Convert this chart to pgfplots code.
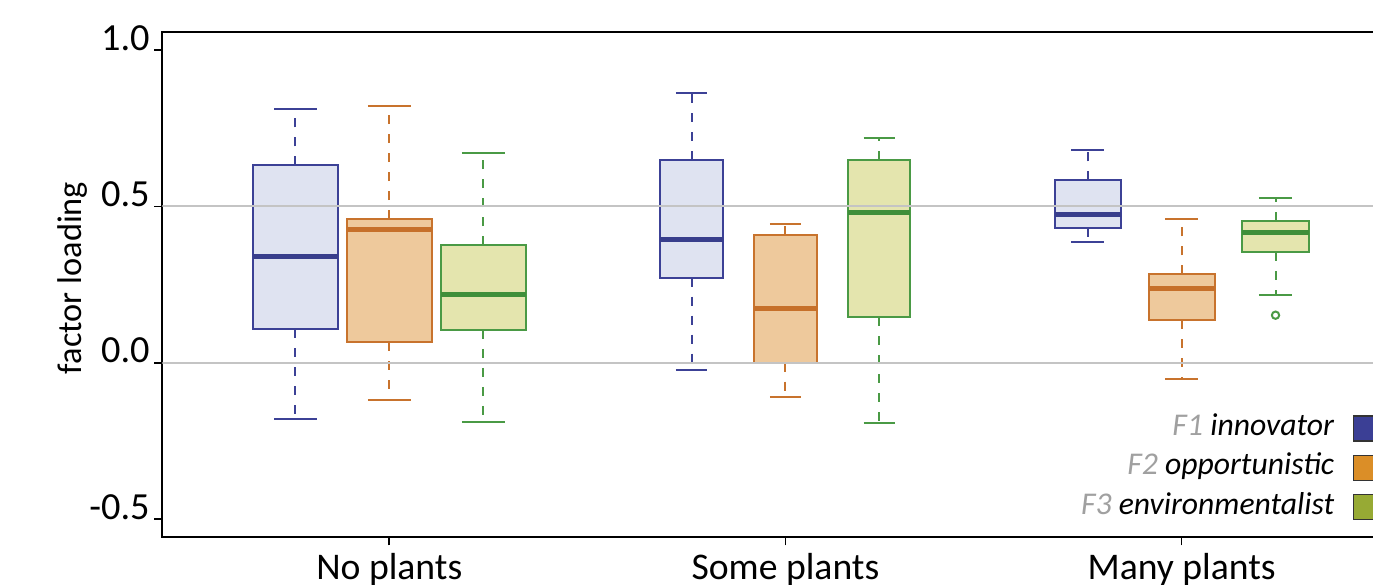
\documentclass[border=0pt]{standalone}
\usepackage{pgfplots}
\pgfplotsset{compat=1.18}
\usepgfplotslibrary{statistics}
\usepackage{fontspec}
\setmainfont{Carlito}
\definecolor{bE}{HTML}{3C4196}
\definecolor{bF}{HTML}{DFE3F1}
\definecolor{bM}{HTML}{383E8C}
\definecolor{oE}{HTML}{C8732D}
\definecolor{oF}{HTML}{EEC99C}
\definecolor{oM}{HTML}{C6702A}
\definecolor{gE}{HTML}{4A9A45}
\definecolor{gF}{HTML}{E4E5AE}
\definecolor{gM}{HTML}{3F8F3A}
\definecolor{lB}{HTML}{3B3F95}
\definecolor{lO}{HTML}{DB8E27}
\definecolor{lG}{HTML}{97AA34}
\definecolor{Fg}{HTML}{A0A0A0}
\definecolor{gridc}{HTML}{C4C4C4}
\pgfplotsset{
  F/.style n args={3}{
    forget plot,
    boxplot/draw direction=y,
    boxplot/every box/.style={draw=#1, fill=#2, line width=0.6pt},
    boxplot/every median/.style={draw=#3, line width=1.5pt},
    boxplot/every whisker/.style={draw=#1, line width=0.6pt},
  },
  legsq/.style={legend image code/.code={%
    \filldraw[draw=black!80, line width=0.4pt] (0pt,-3.75pt) rectangle (7.5pt,3.75pt);}},
}
\begin{document}
\begin{tikzpicture}
\path[use as bounding box] (0,0) rectangle (411.9pt,-175.5pt);
\clip (0,0) rectangle (411.9pt,-175.5pt);
\begin{axis}[
  at={(48.69pt,-161.19pt)}, anchor=south west,
  scale only axis, width=373.9pt, height=151.68pt,
  xmin=0.427, xmax=3.573, ymin=-0.5585, ymax=1.059,
  xtick={1,2,3}, xticklabels={No plants,Some plants,Many plants},
  ytick={-0.5,0,0.5,1}, yticklabels={-0.5,0.0,0.5,1.0},
  tick align=outside, tick pos=left, major tick length=2.4pt,
  tick style={line width=0.5pt, black},
  axis line style={line width=0.5pt},
  yticklabel style={font=\fontsize{11.5}{13}\selectfont, anchor=base east, inner xsep=1.2pt},
  xticklabel style={font=\fontsize{11.3}{13}\selectfont, yshift=1pt},
  ylabel={factor loading},
  every axis y label/.style={at={(axis description cs:-0.0724,0.513)}, rotate=90, anchor=center, font=\fontsize{10.3}{12}\selectfont},
  boxplot/draw/lower whisker/.code={%
    \draw[/pgfplots/boxplot/every whisker/.try, dash pattern=on 2.7pt off 3pt]
      (boxplot box cs:\pgfplotsboxplotvalue{lower quartile},0.5) --
      (boxplot box cs:\pgfplotsboxplotvalue{lower whisker},0.5);
    \draw[/pgfplots/boxplot/every whisker/.try]
      (boxplot whisker cs:\pgfplotsboxplotvalue{lower whisker},0) --
      (boxplot whisker cs:\pgfplotsboxplotvalue{lower whisker},1);
  },
  boxplot/draw/upper whisker/.code={%
    \draw[/pgfplots/boxplot/every whisker/.try, dash pattern=on 2.7pt off 3pt]
      (boxplot box cs:\pgfplotsboxplotvalue{upper quartile},0.5) --
      (boxplot box cs:\pgfplotsboxplotvalue{upper whisker},0.5);
    \draw[/pgfplots/boxplot/every whisker/.try]
      (boxplot whisker cs:\pgfplotsboxplotvalue{upper whisker},0) --
      (boxplot whisker cs:\pgfplotsboxplotvalue{upper whisker},1);
  },
  legend cell align=right, legend plot pos=right,
  legend style={at={(0.9761,0.029)}, anchor=south east, draw=none, fill=none,
    inner sep=0pt, outer sep=0pt, row sep=2.5pt, column sep=5pt,
    font=\fontsize{9.5}{11}\selectfont,
    nodes={inner sep=0.5pt, text height=6.3pt, text depth=2pt}},
]
\addlegendimage{legsq, fill=lB}
\addlegendentry{\textcolor{Fg}{\textit{F1}}\ \textit{innovator}}
\addlegendimage{legsq, fill=lO}
\addlegendentry{\textcolor{Fg}{\textit{F2}}\ \textit{opportunistic}}
\addlegendimage{legsq, fill=lG}
\addlegendentry{\textcolor{Fg}{\textit{F3}}\ \textit{environmentalist}}

% No plants
\addplot[F={bE}{bF}{bM}, boxplot prepared={draw position=0.763, lower whisker=-0.179, lower quartile=0.107, median=0.340, upper quartile=0.631, upper whisker=0.813, box extend=0.215, whisker extend=0.108}] coordinates {};
\addplot[F={oE}{oF}{oM}, boxplot prepared={draw position=1.0, lower whisker=-0.119, lower quartile=0.066, median=0.427, upper quartile=0.459, upper whisker=0.822, box extend=0.215, whisker extend=0.108}] coordinates {};
\addplot[F={gE}{gF}{gM}, boxplot prepared={draw position=1.237, lower whisker=-0.189, lower quartile=0.105, median=0.219, upper quartile=0.376, upper whisker=0.672, box extend=0.215, whisker extend=0.108}] coordinates {};
% Some plants
\addplot[F={bE}{bF}{bM}, boxplot prepared={draw position=1.763, lower whisker=-0.024, lower quartile=0.272, median=0.395, upper quartile=0.649, upper whisker=0.862, box extend=0.157, whisker extend=0.079}] coordinates {};
\addplot[F={oE}{oF}{oM}, boxplot prepared={draw position=2.0, lower whisker=-0.110, lower quartile=0.0, median=0.175, upper quartile=0.408, upper whisker=0.445, box extend=0.157, whisker extend=0.079}] coordinates {};
\addplot[F={gE}{gF}{gM}, boxplot prepared={draw position=2.237, lower whisker=-0.194, lower quartile=0.146, median=0.482, upper quartile=0.649, upper whisker=0.718, box extend=0.157, whisker extend=0.079}] coordinates {};
% Many plants
\addplot[F={bE}{bF}{bM}, boxplot prepared={draw position=2.763, lower whisker=0.385, lower quartile=0.430, median=0.475, upper quartile=0.583, upper whisker=0.680, box extend=0.167, whisker extend=0.084}] coordinates {};
\addplot[F={oE}{oF}{oM}, boxplot prepared={draw position=3.0, lower whisker=-0.052, lower quartile=0.136, median=0.239, upper quartile=0.283, upper whisker=0.460, box extend=0.167, whisker extend=0.084}] coordinates {};
\addplot[F={gE}{gF}{gM}, mark=o, mark size=1.1pt, mark options={draw=gE, line width=0.6pt, solid}, boxplot prepared={draw position=3.237, lower whisker=0.217, lower quartile=0.354, median=0.418, upper quartile=0.454, upper whisker=0.527, box extend=0.167, whisker extend=0.084}] table[row sep=\\, y index=0] {data\\ 0.152\\};

\draw[gridc, line width=0.6pt] (axis cs:\pgfkeysvalueof{/pgfplots/xmin},0) -- (axis cs:\pgfkeysvalueof{/pgfplots/xmax},0);
\draw[gridc, line width=0.6pt] (axis cs:\pgfkeysvalueof{/pgfplots/xmin},0.5) -- (axis cs:\pgfkeysvalueof{/pgfplots/xmax},0.5);
\end{axis}
\end{tikzpicture}
\end{document}
